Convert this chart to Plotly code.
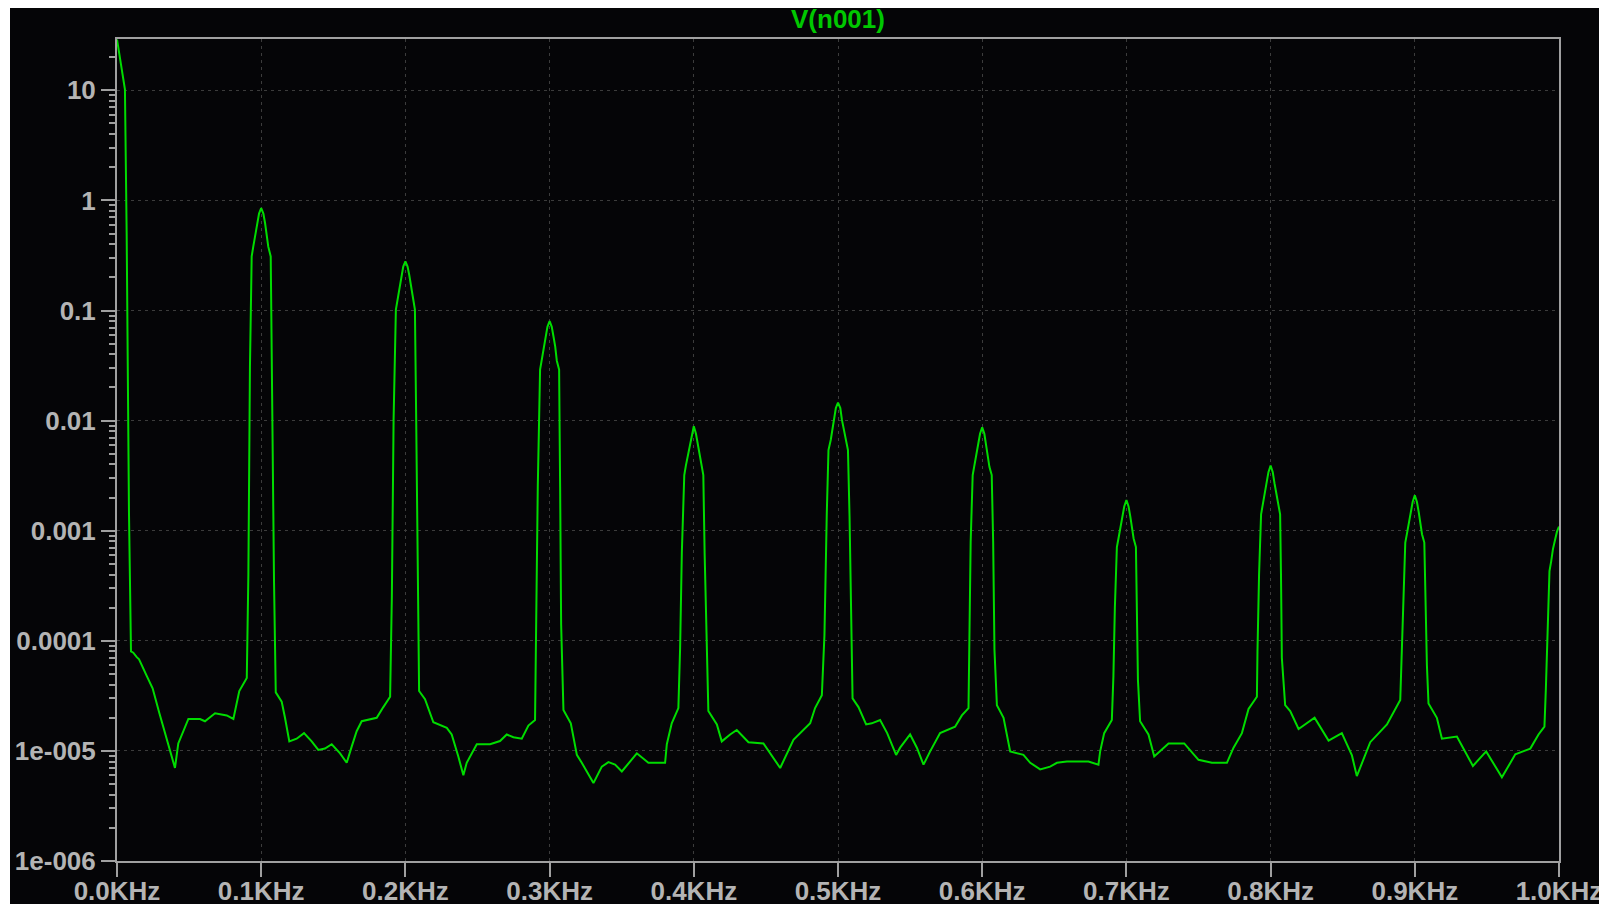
import plotly.graph_objects as go

# FFT magnitude of V(n001): frequency in Hz, magnitude in volts
freq_hz = [
    0.0, 0.9, 2.1, 3.3, 4.4, 5.5, 6.7, 8.3, 9.7, 11.3, 13.7, 15.3, 20.6, 24.7, 29.4,
    34.5, 40.2, 42.5, 49.5, 57.6, 61.0, 68.0, 76.1, 80.7, 84.8, 90.0,
    91.1, 92.2, 93.4, 94.5, 96.2, 97.3, 98.5, 100.0, 101.5, 102.7, 103.8, 104.9, 106.6,
    107.3, 108.9, 110.1,
    114.2, 116.5, 119.5, 124.6, 129.7, 135.0, 139.6, 144.2, 148.9, 154.7, 159.3, 162.8,
    166.2, 169.7, 180.1, 184.7, 189.4,
    190.6, 191.8, 193.4, 194.5, 196.1, 197.3, 198.5, 200.0, 201.5, 202.7, 203.9, 205.0,
    206.6, 207.5, 208.6, 209.5,
    213.6, 219.4, 228.7, 232.1, 236.7, 240.2, 242.5, 249.5, 258.7, 265.6, 270.3, 274.9,
    280.7, 285.3, 289.9,
    290.6, 291.8, 293.4, 294.5, 296.1, 297.3, 298.5, 300.0, 301.5, 302.7, 303.9, 305.0,
    306.6, 307.3, 308.0, 309.6,
    314.7, 318.9, 322.3, 330.4, 336.2, 340.8, 345.4, 350.1, 360.5, 368.5, 380.1, 381.3,
    384.7, 389.3,
    390.5, 391.7, 393.4, 394.5, 396.1, 397.3, 398.5, 400.0, 401.5, 402.7, 403.9, 405.0,
    406.6, 407.5, 409.0, 410.1,
    416.0, 419.4, 425.2, 429.8, 437.9, 448.3, 459.9, 469.1, 480.7, 484.1, 488.8,
    490.6, 492.2, 493.4, 495.0, 496.1, 497.5, 498.5, 500.0, 501.6, 502.7, 503.9, 505.5,
    506.9, 508.0, 509.6, 510.1,
    514.2, 519.5, 523.4, 529.2, 534.1, 540.3, 543.1, 550.0, 554.7, 559.3, 563.9, 570.8,
    581.2, 585.9, 590.5,
    591.0, 592.0, 593.4, 594.5, 596.1, 597.3, 598.5, 600.0, 601.5, 602.7, 603.9, 605.0,
    606.6, 607.6, 608.5, 610.2,
    614.8, 619.4, 628.6, 633.3, 640.2, 647.1, 651.8, 658.7, 673.7, 680.6, 681.8, 684.6,
    689.9,
    691.0, 692.0, 693.4, 694.5, 696.1, 697.3, 698.5, 700.0, 701.5, 702.7, 703.9, 705.0,
    706.6, 707.3, 708.0, 709.5,
    715.3, 719.3, 729.2, 740.1, 750.0, 759.3, 769.7, 774.3, 780.1, 784.7, 790.5,
    790.9, 792.0, 793.4, 794.5, 796.1, 797.3, 798.5, 800.0, 801.5, 802.7, 803.9, 805.0,
    806.6, 807.2, 807.8, 810.1,
    813.6, 819.4, 830.5, 840.2, 849.4, 856.4, 859.8, 869.1, 880.7, 889.9,
    890.8, 891.8, 893.4, 894.5, 896.1, 897.3, 898.5, 900.0, 901.5, 902.7, 903.9, 905.0,
    906.6, 907.4, 908.4, 909.5,
    915.3, 918.8, 929.2, 940.3, 949.5, 960.4, 969.7, 980.1, 983.5, 985.8, 988.2, 989.9,
    990.9, 992.2, 993.4, 994.6, 995.8, 997.4, 998.6, 1000.0,
]

v_n001 = [
    29.0, 24.1, 19.2, 16.0, 12.8, 10.2, 0.512, 1.48e-3, 8.0e-5, 7.8e-5, 7.1e-5, 6.8e-5,
    4.8e-5, 3.7e-5, 2.2e-5,
    1.26e-5, 7.0e-6, 1.17e-5, 1.95e-5, 1.95e-5, 1.86e-5, 2.2e-5, 2.1e-5, 1.95e-5, 3.5e-5,
    4.6e-5,
    4.0e-4, 0.031, 0.31, 0.38, 0.50, 0.62, 0.76, 0.85, 0.76, 0.62, 0.50, 0.38, 0.31,
    0.030, 3.4e-4, 3.4e-5,
    2.8e-5, 2.0e-5, 1.22e-5, 1.29e-5, 1.45e-5, 1.22e-5, 1.02e-5, 1.05e-5, 1.15e-5, 9.5e-6,
    7.8e-6, 1.10e-5, 1.51e-5, 1.86e-5, 2.0e-5, 2.5e-5, 3.1e-5,
    2.5e-4, 0.010, 0.102, 0.126, 0.166, 0.209, 0.251, 0.28, 0.251, 0.209, 0.166, 0.126,
    0.102, 0.010, 2.5e-4, 3.5e-5,
    2.95e-5, 1.82e-5, 1.62e-5, 1.41e-5, 8.9e-6, 6.0e-6, 7.8e-6, 1.15e-5, 1.15e-5, 1.23e-5,
    1.41e-5, 1.33e-5, 1.29e-5, 1.70e-5, 1.91e-5,
    1.17e-4, 2.5e-3, 0.029, 0.035, 0.047, 0.058, 0.071, 0.080, 0.071, 0.058, 0.047, 0.035,
    0.029, 2.5e-3, 1.40e-4, 2.35e-5,
    1.78e-5, 9.2e-6, 7.8e-6, 5.1e-6, 7.2e-6, 7.9e-6, 7.5e-6, 6.5e-6, 9.5e-6, 7.8e-6,
    7.8e-6, 1.15e-5, 1.78e-5, 2.45e-5,
    8.5e-5, 6.3e-4, 3.2e-3, 3.9e-3, 5.0e-3, 6.2e-3, 7.6e-3, 8.9e-3, 7.6e-3, 6.2e-3,
    5.0e-3, 3.9e-3, 3.2e-3, 6.3e-4, 7.5e-5, 2.3e-5,
    1.74e-5, 1.22e-5, 1.41e-5, 1.55e-5, 1.20e-5, 1.17e-5, 7.0e-6, 1.26e-5, 1.78e-5,
    2.45e-5, 3.2e-5,
    1.13e-4, 1.39e-3, 5.4e-3, 6.7e-3, 8.3e-3, 0.0102, 0.0130, 0.0146, 0.0130, 0.0102,
    8.3e-3, 6.7e-3, 5.4e-3, 1.35e-3, 1.10e-4, 3.0e-5,
    2.5e-5, 1.74e-5, 1.78e-5, 1.91e-5, 1.45e-5, 9.2e-6, 1.07e-5, 1.41e-5, 1.07e-5, 7.5e-6,
    9.9e-6, 1.45e-5, 1.66e-5, 2.1e-5, 2.45e-5,
    8.3e-5, 7.9e-4, 3.2e-3, 3.8e-3, 4.9e-3, 6.0e-3, 7.6e-3, 8.7e-3, 7.6e-3, 6.0e-3,
    4.9e-3, 3.8e-3, 3.2e-3, 7.9e-4, 8.3e-5, 2.6e-5,
    2.0e-5, 9.9e-6, 9.2e-6, 7.8e-6, 6.8e-6, 7.2e-6, 7.8e-6, 8.0e-6, 8.0e-6, 7.5e-6,
    9.9e-6, 1.45e-5, 1.91e-5,
    4.8e-5, 2.0e-4, 7.1e-4, 8.5e-4, 1.10e-3, 1.35e-3, 1.66e-3, 1.9e-3, 1.66e-3, 1.35e-3,
    1.10e-3, 8.5e-4, 7.1e-4, 2.0e-4, 4.4e-5, 1.86e-5,
    1.41e-5, 8.9e-6, 1.17e-5, 1.17e-5, 8.3e-6, 7.8e-6, 7.8e-6, 1.07e-5, 1.45e-5, 2.4e-5,
    3.1e-5,
    8.0e-5, 4.0e-4, 1.41e-3, 1.70e-3, 2.2e-3, 2.7e-3, 3.4e-3, 3.9e-3, 3.4e-3, 2.7e-3,
    2.2e-3, 1.70e-3, 1.41e-3, 4.0e-4, 7.0e-5, 2.6e-5,
    2.3e-5, 1.58e-5, 2.0e-5, 1.24e-5, 1.45e-5, 9.1e-6, 5.9e-6, 1.20e-5, 1.74e-5, 2.9e-5,
    6.5e-5, 2.2e-4, 7.8e-4, 9.3e-4, 1.20e-3, 1.48e-3, 1.82e-3, 2.1e-3, 1.82e-3, 1.48e-3,
    1.20e-3, 9.3e-4, 7.8e-4, 2.2e-4, 6.0e-5, 2.7e-5,
    2.0e-5, 1.29e-5, 1.35e-5, 7.3e-6, 9.9e-6, 5.75e-6, 9.3e-6, 1.05e-5, 1.26e-5, 1.41e-5,
    1.55e-5, 1.66e-5,
    3.7e-5, 1.78e-4, 4.3e-4, 5.3e-4, 6.8e-4, 8.4e-4, 9.8e-4, 1.09e-3,
]

# Axis ticks
x_tick_hz = [0, 100, 200, 300, 400, 500, 600, 700, 800, 900, 1000]
x_tick_text = ["0.0KHz", "0.1KHz", "0.2KHz", "0.3KHz", "0.4KHz", "0.5KHz",
               "0.6KHz", "0.7KHz", "0.8KHz", "0.9KHz", "1.0KHz"]
y_tick_vals = [1e-6, 1e-5, 1e-4, 1e-3, 1e-2, 1e-1, 1, 10]
y_tick_text = ["1e-006", "1e-005", "0.0001", "0.001", "0.01", "0.1", "1", "10"]
y_minor_vals = [m * 10.0 ** e for e in range(-6, 2) for m in range(2, 10)]

BG = "#050507"
AXIS = "#a0a0a0"
LABEL = "#b4b4b4"
GRID = "#3c3c3c"
TRACE = "#00dc00"
FONT = "Liberation Sans"

fig = go.Figure()
fig.add_trace(go.Scatter(
    x=freq_hz, y=v_n001, mode="lines",
    line=dict(color=TRACE, width=2),
    hoverinfo="skip",
))

W, H = 1599, 904
ML, MR, MT, MB = 117, 40, 39, 43
pw, ph = W - ML - MR, H - MT - MB

fig.update_layout(
    width=W, height=H,
    margin=dict(l=ML, r=MR, t=MT, b=MB, pad=0, autoexpand=False),
    paper_bgcolor=BG, plot_bgcolor=BG,
    showlegend=False,
    xaxis=dict(
        range=[0, 1000], tickmode="array", tickvals=x_tick_hz, ticktext=x_tick_text,
        ticks="outside", ticklen=14, tickwidth=2, tickcolor=AXIS,
        showline=True, linecolor=AXIS, linewidth=2, mirror=True,
        showgrid=True, gridcolor=GRID, gridwidth=1, griddash="3px,4px",
        zeroline=False, fixedrange=True, automargin=False,
        ticklabeloverflow="allow", ticklabelstandoff=-8,
        tickfont=dict(family=FONT, size=26, color=LABEL, weight="bold"),
    ),
    yaxis=dict(
        type="log", range=[-6, 1.466], tickmode="array",
        tickvals=y_tick_vals, ticktext=y_tick_text,
        ticks="outside", ticklen=14, tickwidth=2, tickcolor=AXIS,
        minor=dict(tickmode="array", tickvals=y_minor_vals, ticks="outside",
                   ticklen=6, tickwidth=2, tickcolor=AXIS, showgrid=False),
        showline=True, linecolor=AXIS, linewidth=2, mirror=True,
        showgrid=True, gridcolor=GRID, gridwidth=1, griddash="3px,4px",
        zeroline=False, fixedrange=True, automargin=False,
        ticklabeloverflow="allow",
        tickfont=dict(family=FONT, size=26, color=LABEL, weight="bold"),
    ),
    annotations=[dict(
        text="V(n001)", x=0.5, y=(H - MB - 19) / ph, xref="paper", yref="paper",
        xanchor="center", yanchor="middle", showarrow=False,
        font=dict(family=FONT, size=26, color="#00c800", weight="bold"),
    )],
    shapes=[
        # white border strips along the top and left edges of the window
        dict(type="rect", xref="paper", yref="paper", layer="above",
             x0=-0.2, x1=1.2, y0=(H - MB - 8) / ph, y1=1.3,
             fillcolor="white", line=dict(width=0)),
        dict(type="rect", xref="paper", yref="paper", layer="above",
             x0=-0.2, x1=(10 - ML) / pw, y0=-0.2, y1=1.3,
             fillcolor="white", line=dict(width=0)),
    ],
)

fig.write_html("out.html", config={"displayModeBar": False})
